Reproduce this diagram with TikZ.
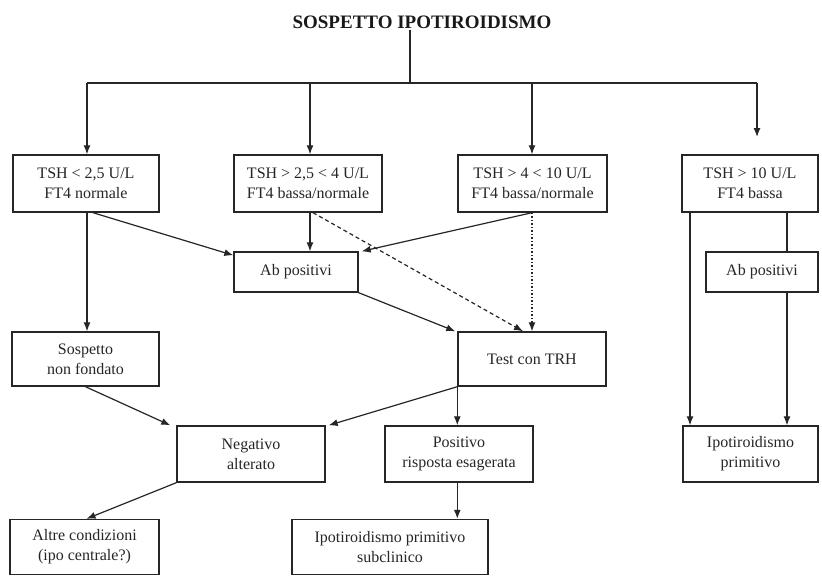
\documentclass[tikz,border=0pt]{standalone}
\usepackage{fontspec}
\setmainfont{Liberation Serif}
\usetikzlibrary{arrows.meta}
\begin{document}
\begin{tikzpicture}[x=1pt,y=-1pt,
  box/.style={draw=black!85,line width=1.4pt,rectangle,align=center,inner sep=0pt,
    font=\fontsize{16}{20}\selectfont,text=black!85},
  conn/.style={draw=black!85,line width=1.2pt},
  arr/.style={conn,-{Latex[length=9pt,width=7pt]}},
  dashline/.style={arr,dash pattern=on 4pt off 3pt},
  dotline/.style={arr,dash pattern=on 1.5pt off 2pt}]
\useasboundingbox (0,0) rectangle (822,576);
\fill[white] (0,0) rectangle (822,576);
% title
\node[font=\fontsize{19}{20}\selectfont\bfseries,text=black!90,inner sep=1pt] (title) at (422,22) {SOSPETTO IPOTIROIDISMO};
% row 1
\node[box,minimum width=146pt,minimum height=57pt] (b1) at (86,183.5) {TSH < 2,5 U/L\\FT4 normale};
\node[box,minimum width=148pt,minimum height=57pt] (b2) at (308,183.5) {TSH > 2,5 < 4 U/L\\FT4 bassa/normale};
\node[box,minimum width=149pt,minimum height=57pt] (b3) at (532.5,183.5) {TSH > 4 < 10 U/L\\FT4 bassa/normale};
\node[box,minimum width=136pt,minimum height=57pt] (b4) at (750,183.5) {TSH > 10 U/L\\FT4 bassa};
% row 2
\node[box,minimum width=124pt,minimum height=40pt] (ab1) at (296,272) {Ab positivi};
\node[box,minimum width=112pt,minimum height=40pt] (ab2) at (762,272) {Ab positivi};
% row 3
\node[box,minimum width=147pt,minimum height=54pt] (sosp) at (85.5,359) {Sospetto\\non fondato};
\node[box,minimum width=148pt,minimum height=54pt] (trh) at (532,359) {Test con TRH};
% row 4
\node[box,minimum width=148pt,minimum height=56pt] (neg) at (251,454) {Negativo\\alterato};
\node[box,minimum width=148pt,minimum height=56pt] (pos) at (459,454) {Positivo\\risposta esagerata};
\node[box,minimum width=135pt,minimum height=56pt] (ipo) at (750.5,454) {Ipotiroidismo\\primitivo};
% row 5
\node[box,minimum width=149pt,minimum height=55pt] (altre) at (84.5,547) {Altre condizioni\\(ipo centrale?)};
\node[box,minimum width=196pt,minimum height=55pt] (sub) at (390,547) {Ipotiroidismo primitivo\\subclinico};
% coordinates
\coordinate (top) at (410,83);
\coordinate (h1) at (87,83);
\coordinate (h2) at (310,83);
\coordinate (h3) at (532,83);
\coordinate (h4) at (757,83);
\coordinate (e4) at (757,137);
% top tree
\draw[conn] (title.south -| top) -- (top);
\draw[conn] (h1) -- (h4);
\draw[arr] (h1) -- (h1 |- b1.north);
\draw[arr] (h2) -- (h2 |- b2.north);
\draw[arr] (h3) -- (h3 |- b3.north);
\draw[arr] (h4) -- (e4);
% from row 1
\draw[arr] (b1.south -| h1) -- (h1 |- sosp.north);
\draw[arr] ([xshift=7pt]b1.south) -- ([yshift=-4pt]ab1.north west);
\draw[arr] (b2.south -| h2) -- (h2 |- ab1.north);
\draw[arr] (b3.south -| h3) -- ([xshift=3pt]ab1.north east);
\draw[dashline] ([xshift=5pt]b2.south) -- ([xshift=-9pt]trh.north);
\draw[dotline] (b3.south -| h3) -- (h3 |- trh.north);
\draw[arr] (ab1.south east) -- ([xshift=-2pt]trh.north west);
% right column
\draw[arr] (b4.south -| 690,0) -- (ipo.north -| 690,0);
\draw[conn] (b4.south -| 787,0) -- (ab2.north -| 787,0);
\draw[arr] (ab2.south -| 787,0) -- (ipo.north -| 787,0);
% lower part
\draw[arr] (sosp.south) -- ([xshift=-6pt]neg.north west);
\draw[arr] (trh.south west) -- ([xshift=3pt]neg.north east);
\draw[arr] (trh.south west) -- (trh.south west |- pos.north);
\draw[arr] (neg.south west) -- ([xshift=2pt]altre.north);
\draw[arr] (trh.south west |- pos.south) -- (trh.south west |- sub.north);
\end{tikzpicture}
\end{document}
